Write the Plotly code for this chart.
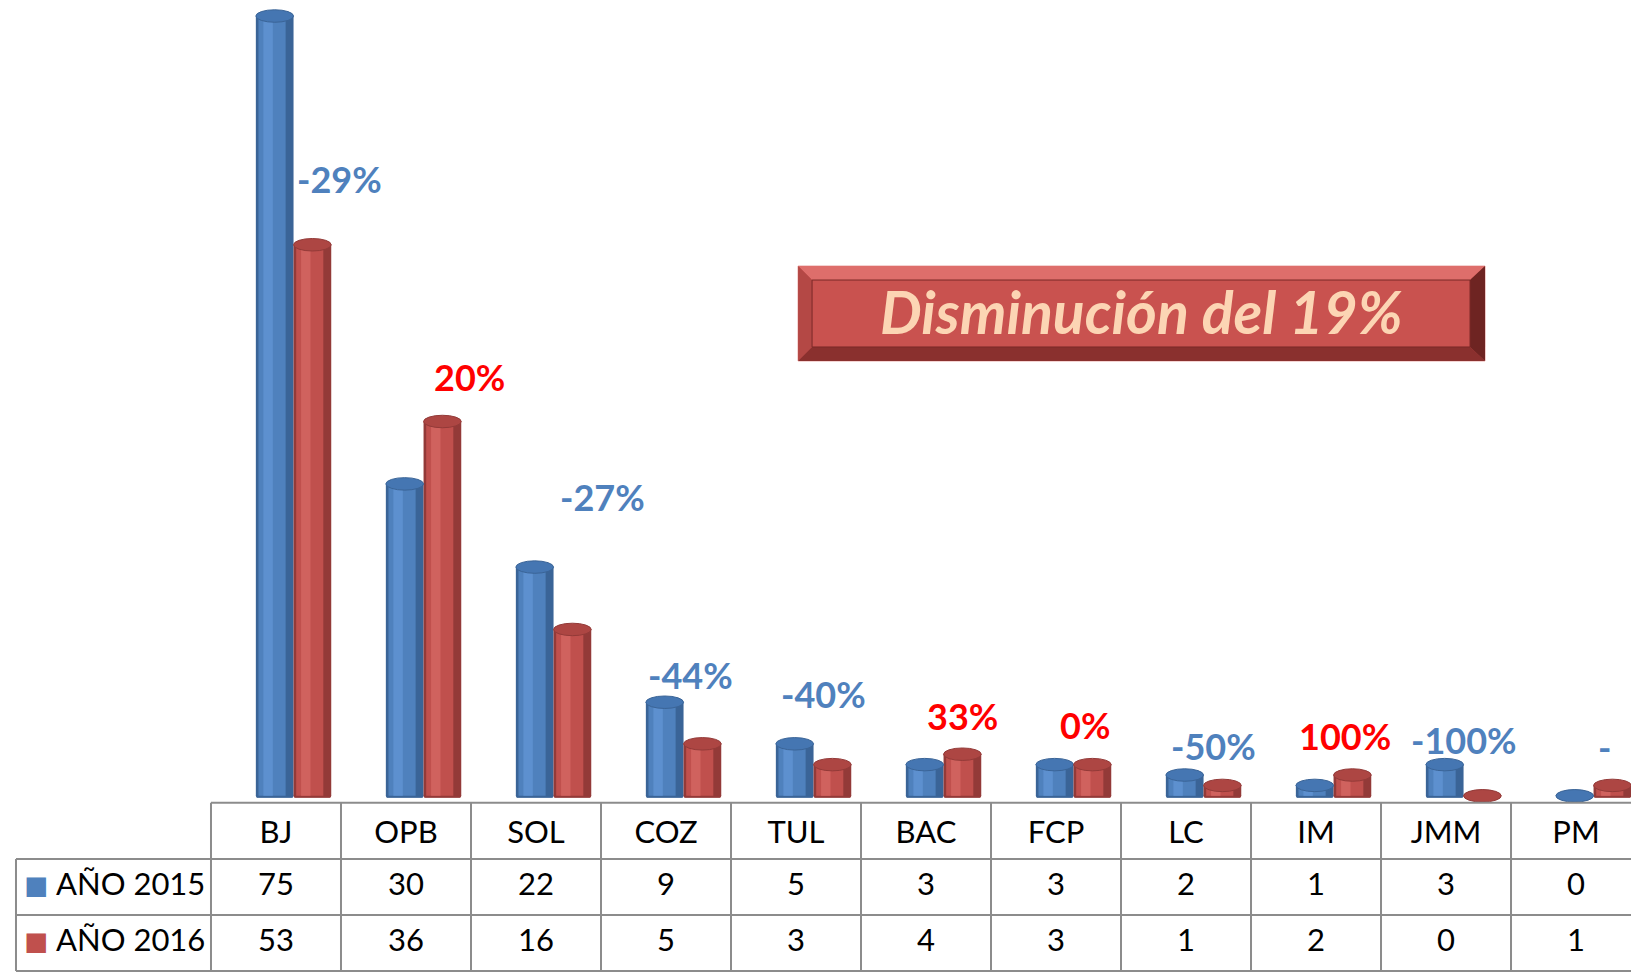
import plotly.graph_objects as go

categories = ["BJ", "OPB", "SOL", "COZ", "TUL", "BAC", "FCP", "LC", "IM", "JMM", "PM"]
anio_2015 = [75, 30, 22, 9, 5, 3, 3, 2, 1, 3, 0]
anio_2016 = [53, 36, 16, 5, 3, 4, 3, 1, 2, 0, 1]
series_names = ["AÑO 2015", "AÑO 2016"]
summary_text = "Disminución del 19%"

# label placement nudges (layout only)
label_dx = [0.49, 0.49, 0.51, 0.19, 0.21, 0.28, 0.22, 0.21, 0.22, 0.14, 0.22]
label_dy = [6.3, 4.3, 12.7, 6.6, 6.8, 3.7, 3.8, 3.8, 3.8, 5.4, 3.7]

FONT = "Lato, Open Sans, sans-serif"
BLUE = dict(dark="#3a6497", main="#4f81bd", light="#5d90cf", cap="#4576b2")
RED = dict(dark="#933a38", main="#c0504d", light="#d0625e", cap="#ad4643")
BAR_W = 0.29
OFFSETS = [-0.155, 0.135]

n = len(categories)
xs = list(range(n))

fig = go.Figure()

# cylinders (layered bars for shading)
for vals, pal, off, name in zip([anio_2015, anio_2016], [BLUE, RED], OFFSETS, series_names):
    layers = [(0.0, 1.0, pal["dark"]), (0.07, 0.72, pal["main"]), (0.2, 0.25, pal["light"])]
    for lo, lw, col in layers:
        fig.add_trace(go.Bar(
            x=xs, y=vals, offset=off + lo * BAR_W, width=lw * BAR_W,
            marker=dict(color=col, line=dict(width=0)), name=name,
            showlegend=False, hoverinfo="skip", xaxis="x", yaxis="y"))

shapes = []
for vals, pal, off in zip([anio_2015, anio_2016], [BLUE, RED], OFFSETS):
    for i, v in zip(xs, vals):
        # bottom ellipse
        shapes.append(dict(type="circle", xref="x", yref="y", layer="below",
                           x0=i + off, x1=i + off + BAR_W, y0=-0.6, y1=0.6,
                           fillcolor=pal["dark"], line=dict(width=0)))
        # top cap
        shapes.append(dict(type="circle", xref="x", yref="y",
                           x0=i + off, x1=i + off + BAR_W, y0=v - 0.6, y1=v + 0.6,
                           fillcolor=pal["cap"], line=dict(color=pal["dark"], width=1)))

# percentage change labels
annotations = []
for i, (a, b) in enumerate(zip(anio_2015, anio_2016)):
    if a == 0:
        txt, col = "-", "#4f81bd"
    else:
        ch = (b - a) / a * 100
        txt = f"{round(ch):.0f}%"
        col = "#ff0000" if ch >= 0 else "#4f81bd"
    annotations.append(dict(x=i + label_dx[i], y=b + label_dy[i], xref="x", yref="y",
                            xanchor="center", yanchor="middle",
                            text=f"<b>{txt}</b>", showarrow=False,
                            font=dict(family=FONT, size=36, color=col)))

# table grid
GRID = dict(color="#8c8c8c", width=2)
shapes.append(dict(type="line", xref="x", yref="y2", x0=-0.5, x1=n - 0.5, y0=3, y1=3, line=GRID))
for r in [0, 1, 2]:
    shapes.append(dict(type="line", xref="x", yref="y2", x0=-2.0, x1=n - 0.5, y0=r, y1=r, line=GRID))
for k in range(n + 1):
    shapes.append(dict(type="line", xref="x", yref="y2", x0=k - 0.5, x1=k - 0.5, y0=0, y1=3, line=GRID))
shapes.append(dict(type="line", xref="x", yref="y2", x0=-2.0, x1=-2.0, y0=0, y1=2, line=GRID))

# table text
fig.add_trace(go.Scatter(x=xs, y=[2.42] * n, text=categories, mode="text",
                         textfont=dict(family=FONT, size=31, color="black"),
                         xaxis="x", yaxis="y2", showlegend=False, hoverinfo="skip"))
for row_y, vals in zip([1.5, 0.5], [anio_2015, anio_2016]):
    fig.add_trace(go.Scatter(x=xs, y=[row_y] * n, text=[str(v) for v in vals], mode="text",
                             textfont=dict(family=FONT, size=31, color="black"),
                             xaxis="x", yaxis="y2", showlegend=False, hoverinfo="skip"))

for row_y, name, pal in zip([1.5, 0.5], series_names, [BLUE, RED]):
    annotations.append(dict(x=-2.0, y=row_y, xref="x", yref="y2", xanchor="left", yanchor="middle",
                            xshift=6, yshift=3, text="■", showarrow=False,
                            font=dict(family=FONT, size=40, color=pal["main"])))
    annotations.append(dict(x=-2.0, y=row_y, xref="x", yref="y2", xanchor="left", yanchor="middle",
                            xshift=38, yshift=4, text=name, showarrow=False,
                            font=dict(family=FONT, size=31, color="black")))

# summary box with bevel
bx0, bx1, by0, by1 = 0.4893, 0.9105, 0.6290, 0.7266
ix0, ix1, iy0, iy1 = 0.4979, 0.9013, 0.6434, 0.7122
shapes.append(dict(type="rect", xref="paper", yref="paper", x0=bx0, x1=bx1, y0=by0, y1=by1,
                   fillcolor="#c9524f", line=dict(color="#e8a3a1", width=1)))
def trap(pts, col):
    p = "M " + " L ".join(f"{x},{y}" for x, y in pts) + " Z"
    return dict(type="path", xref="paper", yref="paper", path=p, fillcolor=col, line=dict(width=0))
shapes.append(trap([(bx0, by1), (bx1, by1), (ix1, iy1), (ix0, iy1)], "#de6e6b"))
shapes.append(trap([(bx0, by0), (bx0, by1), (ix0, iy1), (ix0, iy0)], "#b44845"))
shapes.append(trap([(bx0, by0), (bx1, by0), (ix1, iy0), (ix0, iy0)], "#8a302e"))
shapes.append(trap([(bx1, by0), (bx1, by1), (ix1, iy1), (ix1, iy0)], "#6e2422"))
shapes.append(dict(type="rect", xref="paper", yref="paper", x0=ix0, x1=ix1, y0=iy0, y1=iy1,
                   fillcolor="#c9524f", line=dict(color="#7a2927", width=1)))
annotations.append(dict(x=(bx0 + bx1) / 2, y=(by0 + by1) / 2 + 0.002, xref="paper", yref="paper",
                        xanchor="center", yanchor="middle",
                        text=f"<b><i>{summary_text}</i></b>", showarrow=False,
                        font=dict(family=FONT, size=59, color="#fcd5b4")))

fig.update_layout(
    width=1631, height=973, margin=dict(l=0, r=0, t=0, b=0),
    paper_bgcolor="white", plot_bgcolor="white",
    barmode="overlay", showlegend=False,
    xaxis=dict(range=[-2.123, 10.423], domain=[0, 1], visible=False, anchor="y"),
    yaxis=dict(range=[-0.6, 76.54], domain=[0.1757, 1], visible=False, anchor="x"),
    yaxis2=dict(range=[-0.036, 3.089], domain=[0, 0.18], visible=False, anchor="x"),
    shapes=shapes, annotations=annotations,
)

fig.write_html("out.html", config={"displayModeBar": False, "staticPlot": True},
               post_script="document.body.style.margin='0';document.body.style.overflow='hidden';")
